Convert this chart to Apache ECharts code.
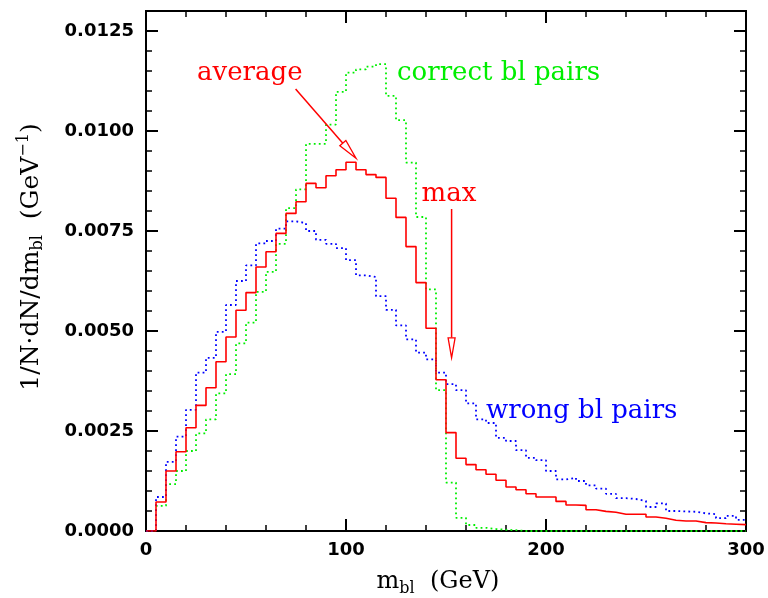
<!DOCTYPE html>
<html>
<head>
<meta charset="utf-8">
<script src="https://cdn.jsdelivr.net/npm/echarts@6/dist/echarts.min.js"></script>
<style>
  html, body { margin: 0; padding: 0; background: #fff; }
  #chart { width: 768px; height: 598px; }
</style>
</head>
<body>
<div id="chart"></div>
<script>
// m_bl histograms, 5 GeV bins from 0 to 300 GeV (value = left-edge bin content)
const BIN_WIDTH = 5;

const averageVals = [
  0, 0.000725, 0.00150, 0.00198, 0.00258, 0.00314, 0.00358, 0.00423, 0.00485, 0.00552,
  0.00596, 0.00660, 0.00698, 0.00744, 0.00794, 0.00823, 0.00869, 0.00858, 0.00888, 0.00903,
  0.00922, 0.00903, 0.00891, 0.00884, 0.00832, 0.00784, 0.00711, 0.00621, 0.00507, 0.00378,
  0.00246, 0.00182, 0.00166, 0.00153, 0.00142, 0.00127, 0.00110, 0.00103, 0.00093, 0.00085,
  0.00085, 0.00074, 0.00065, 0.00064, 0.00053, 0.00049, 0.00047, 0.00042, 0.00042, 0.00042,
  0.00035, 0.00032, 0.00027, 0.00025, 0.00025, 0.00021, 0.00020, 0.00018, 0.00017, 0.00016
];

const wrongVals = [
  0, 0.00085, 0.00173, 0.00236, 0.00303, 0.00396, 0.00433, 0.00498, 0.00565, 0.00625,
  0.00664, 0.00719, 0.00725, 0.00756, 0.00774, 0.00770, 0.00750, 0.00728, 0.00718, 0.00707,
  0.00677, 0.00639, 0.00635, 0.00587, 0.00553, 0.00514, 0.00479, 0.00446, 0.00429, 0.00396,
  0.00367, 0.00352, 0.00319, 0.00279, 0.00270, 0.00233, 0.00225, 0.00202, 0.00183, 0.00177,
  0.00150, 0.00129, 0.00133, 0.00125, 0.00114, 0.00106, 0.00093, 0.00082, 0.00080, 0.00075,
  0.00060, 0.00069, 0.00050, 0.00049, 0.00048, 0.00044, 0.00042, 0.00032, 0.00038, 0.00028
];

const correctVals = [
  0, 0.00063, 0.00117, 0.00150, 0.00200, 0.00244, 0.00279, 0.00344, 0.00392, 0.00469,
  0.00521, 0.00598, 0.00648, 0.00718, 0.00807, 0.00854, 0.00968, 0.00968, 0.01016, 0.01098,
  0.01146, 0.01154, 0.01161, 0.01167, 0.01088, 0.01027, 0.00921, 0.00785, 0.00604, 0.00352,
  0.00121, 0.00033, 0.00015, 0.00008, 0.00005, 0.00003, 0.00002, 0, 0, 0,
  0, 0, 0, 0, 0, 0, 0, 0, 0, 0,
  0, 0, 0, 0, 0, 0, 0, 0, 0, 0
];

// annotations, in data units [m_bl, value]
const labelAverage = [25.5, 0.01145];
const labelCorrect = [125.5, 0.01145];
const labelMax     = [137.8, 0.00843];
const labelWrong   = [170, 0.00300];
const arrowAverage = [[74.8, 0.01105], [105, 0.00932]];
const arrowMax     = [[152.8, 0.00805], [152.8, 0.00433]];

const RED = '#ff0000', BLUE = '#0000ff', GREEN = '#00ee00';
const SERIF = 'DejaVu Serif';

function toSteps(vals) {
  const pts = vals.map((v, i) => [i * BIN_WIDTH, v]);
  pts.push([vals.length * BIN_WIDTH, vals[vals.length - 1]]);
  return pts;
}

const chart = echarts.init(document.getElementById('chart'));

const frameLine = { lineStyle: { color: '#000', width: 2 } };
const majorTick = { inside: true, length: 12, lineStyle: { color: '#000', width: 2 } };
const minorTick = { inside: true, length: 6, lineStyle: { color: '#000', width: 1.5 } };
const tickFont  = { color: '#000', fontFamily: 'DejaVu Sans', fontWeight: 'bold', fontSize: 18 };

const yBase = (pos, showLabel, interval, tick) => ({
  type: 'value', min: 0, max: 0.013, interval, position: pos,
  axisLine: { show: true, onZero: false, ...frameLine },
  axisTick: tick, splitLine: { show: false },
  axisLabel: showLabel ? {
    ...tickFont, margin: 12,
    formatter: v => (Math.abs(v / 0.0025 - Math.round(v / 0.0025)) < 1e-6 ? v.toFixed(4) : '')
  } : { show: false }
});

const yLeft = yBase('left', true, 0.0025, majorTick);
yLeft.name = '{n|1/N·dN/dm}{s|bl}{n|  (GeV}{p|−1}{n|)}';
yLeft.nameLocation = 'middle';
yLeft.nameGap = 100;
yLeft.nameTextStyle = {
  color: '#000', fontFamily: SERIF, fontSize: 25, padding: [0, 0, 0, 28],
  rich: {
    n: { fontFamily: SERIF, fontSize: 25, color: '#000', lineHeight: 30, verticalAlign: 'middle' },
    s: { fontFamily: SERIF, fontSize: 16, color: '#000', lineHeight: 14, verticalAlign: 'bottom' },
    p: { fontFamily: SERIF, fontSize: 16, color: '#000', lineHeight: 14, verticalAlign: 'top' }
  }
};

const option = {
  animation: false,
  backgroundColor: '#fff',
  grid: { left: 146, right: 22, top: 11, bottom: 67, containLabel: false, outerBoundsMode: 'none' },
  xAxis: [
    { type: 'value', min: 0, max: 300, interval: 100, position: 'bottom',
      axisLine: { show: true, onZero: false, ...frameLine },
      axisTick: majorTick, minorTick: { show: true, splitNumber: 5, ...minorTick },
      splitLine: { show: false },
      axisLabel: { ...tickFont, margin: 10 },
      name: '{n|m}{s|bl}{n|  (GeV)}', nameLocation: 'middle', nameGap: 36,
      nameTextStyle: {
        color: '#000', fontFamily: SERIF, fontSize: 24, padding: [0, 16, 0, 0],
        rich: {
          n: { fontFamily: SERIF, fontSize: 24, color: '#000', lineHeight: 30, verticalAlign: 'middle' },
          s: { fontFamily: SERIF, fontSize: 16, color: '#000', lineHeight: 14, verticalAlign: 'bottom' }
        }
      } },
    { type: 'value', min: 0, max: 300, interval: 100, position: 'top',
      axisLine: { show: true, onZero: false, ...frameLine },
      axisTick: majorTick, minorTick: { show: true, splitNumber: 5, ...minorTick },
      splitLine: { show: false }, axisLabel: { show: false } }
  ],
  yAxis: [
    yLeft,
    yBase('left', false, 0.0005, minorTick),
    yBase('right', false, 0.0025, majorTick),
    yBase('right', false, 0.0005, minorTick)
  ],
  series: [
    { name: 'correct bl pairs', type: 'line', step: 'end', showSymbol: false,
      data: toSteps(correctVals), lineStyle: { color: GREEN, width: 1.8, type: [1.8, 3.2] }, z: 2 },
    { name: 'wrong bl pairs', type: 'line', step: 'end', showSymbol: false,
      data: toSteps(wrongVals), lineStyle: { color: BLUE, width: 1.8, type: [1.8, 3.2] }, z: 3 },
    { name: 'average', type: 'line', step: 'end', showSymbol: false,
      data: toSteps(averageVals), lineStyle: { color: RED, width: 1.6 }, z: 4 }
  ]
};

chart.setOption(option);

// ── annotations placed through the chart's own coordinate system ──
const px = p => chart.convertToPixel({ xAxisIndex: 0, yAxisIndex: 0 }, p);

function textEl(text, at, color) {
  const [x, y] = px(at);
  return { type: 'text', x, y, z: 10,
    style: { text, fill: color, font: `26px "${SERIF}"`, textAlign: 'left', textVerticalAlign: 'middle' } };
}

function arrowEls(from, to, color, headLen, headHalf) {
  const [x0, y0] = px(from), [x1, y1] = px(to);
  const len = Math.hypot(x1 - x0, y1 - y0);
  const ux = (x1 - x0) / len, uy = (y1 - y0) / len;
  const bx = x1 - ux * headLen, by = y1 - uy * headLen;
  return [
    { type: 'line', z: 10, shape: { x1: x0, y1: y0, x2: bx, y2: by },
      style: { stroke: color, lineWidth: 1.5 } },
    { type: 'polygon', z: 10,
      shape: { points: [[x1, y1], [bx - uy * headHalf, by + ux * headHalf], [bx + uy * headHalf, by - ux * headHalf]] },
      style: { stroke: color, fill: '#fff', lineWidth: 1.3 } }
  ];
}

chart.setOption({
  graphic: [
    textEl('average', labelAverage, RED),
    textEl('correct bl pairs', labelCorrect, GREEN),
    textEl('max', labelMax, RED),
    textEl('wrong bl pairs', labelWrong, BLUE),
    ...arrowEls(arrowAverage[0], arrowAverage[1], RED, 20, 4),
    ...arrowEls(arrowMax[0], arrowMax[1], RED, 20, 3.5)
  ]
});
</script>
</body>
</html>
